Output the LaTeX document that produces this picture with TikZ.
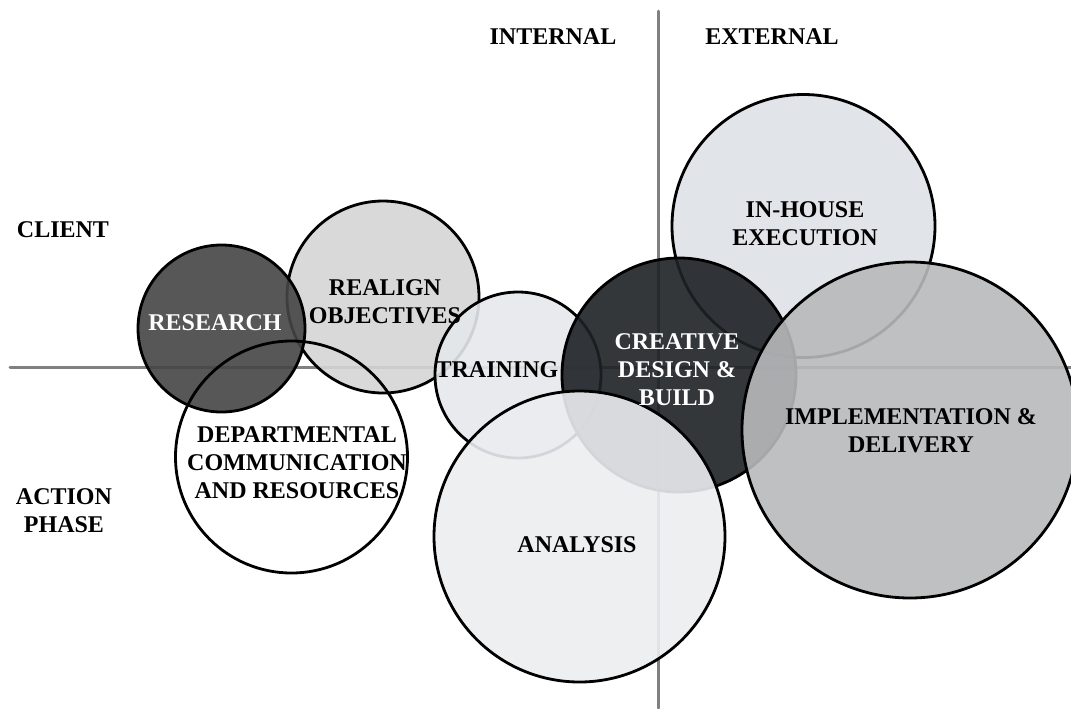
\documentclass[tikz,border=0pt]{standalone}
\usepackage{fontspec}
\setmainfont{Liberation Serif}

\definecolor{cResearch}{RGB}{69,69,69}
\definecolor{cRealign}{RGB}{213,213,213}
\definecolor{cTraining}{RGB}{229,232,235}
\definecolor{cCreative}{RGB}{29,33,37}
\definecolor{cInhouse}{RGB}{222,225,229}
\definecolor{cImpl}{RGB}{184,185,187}
\definecolor{cAnalysis}{RGB}{236,237,240}

\begin{document}
\begin{tikzpicture}[
  x=0.5pt, y=-0.5pt,
  font=\fontsize{12}{14}\selectfont\bfseries,
  bubble/.style={circle, draw=black, line width=1.4pt, fill opacity=0.9, text opacity=1, inner sep=0pt},
  lbl/.style={align=center, inner sep=0pt},
  axis/.style={draw=black!50, line width=1.5pt, line cap=round}
]
  \clip (0,0) rectangle (1071,708);

  % quadrant axes
  \coordinate (hleft) at (10,367);
  \coordinate (hright) at (1071,367);
  \coordinate (vtop) at (658,11);
  \coordinate (vbot) at (658,708);
  \draw[axis] (hleft) -- (hright);
  \draw[axis] (vtop) -- (vbot);

  \node[lbl] (internal) at (553,37) {INTERNAL};
  \node[lbl] (external) at (772,37) {EXTERNAL};
  \node[lbl] (client) at (63,230) {CLIENT};
  \node[lbl] (action) at (64,511) {ACTION\\PHASE};

  % bubbles, back to front
  \node[bubble, fill=cRealign, minimum size=96pt] (realign) at (383,297) {};
  \node[bubble, fill=cResearch, minimum size=83.5pt] (research) at (221.5,328.5) {};
  \node[bubble, fill=none, minimum size=116pt] (dept) at (291.5,457) {};
  \node[bubble, fill=cTraining, minimum size=83pt] (training) at (518,375) {};
  \node[bubble, fill=cInhouse, minimum size=131.5pt] (inhouse) at (803.5,226) {};
  \node[bubble, fill=cCreative, minimum size=117pt] (creative) at (679,375) {};
  \node[bubble, fill=cAnalysis, minimum size=145.5pt] (analysis) at (579.5,536.5) {};
  \node[bubble, fill=cImpl, minimum size=168pt] (impl) at (910,430) {};

  % bubble labels on top
  \node[lbl, text=white] (researchtxt) at (215,323) {RESEARCH};
  \node[lbl] (realigntxt) at (385,302) {REALIGN\\OBJECTIVES};
  \node[lbl] (depttxt) at (297,463) {DEPARTMENTAL\\COMMUNICATION\\AND RESOURCES};
  \node[lbl] (trainingtxt) at (497,370) {TRAINING};
  \node[lbl] (inhousetxt) at (805,224) {IN-HOUSE\\EXECUTION};
  \node[lbl, text=white] (creativetxt) at (677,370) {CREATIVE\\DESIGN \&\\BUILD};
  \node[lbl] (analysistxt) at (577,545) {ANALYSIS};
  \node[lbl] (impltxt) at (911,431) {IMPLEMENTATION \&\\DELIVERY};
\end{tikzpicture}
\end{document}
